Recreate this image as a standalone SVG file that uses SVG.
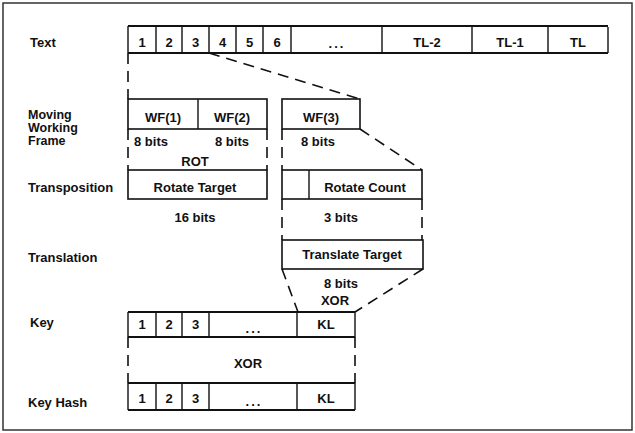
<svg xmlns="http://www.w3.org/2000/svg" width="635" height="433" viewBox="0 0 635 433">
<style>
text{font-family:"Liberation Sans",Arial,sans-serif;font-size:13px;font-weight:bold;fill:#111}
.c{text-anchor:middle}
.s{font-size:12.5px}
.dots{letter-spacing:2px}
.box{fill:none;stroke:#111;stroke-width:1.6}
.h{stroke:#111;stroke-width:2;fill:none}
.v{stroke:#111;stroke-width:1.4;fill:none}
.d{stroke:#111;stroke-width:1.6;fill:none;stroke-dasharray:11 7}
</style>
<rect x="3" y="3" width="629" height="427" fill="#fff" stroke="#333" stroke-width="1.5"/>
<g id="labels">
<text x="30" y="47">Text</text>
<text class="s" x="28" y="119">Moving</text>
<text class="s" x="28" y="132">Working</text>
<text class="s" x="28" y="145">Frame</text>
<text x="28" y="192">Transposition</text>
<text x="28" y="262">Translation</text>
<text x="30" y="327">Key</text>
<text x="28" y="407">Key Hash</text>
</g>
<g id="text-row">
<line class="h" x1="128" y1="26" x2="608" y2="26"/>
<line class="h" x1="128" y1="53" x2="608" y2="53"/>
<path class="v" d="M128 26V53M156 26V53M182 26V53M209 26V53M236 26V53M263 26V53M291 26V53M382 27V53M472 27V53M548 27V53M608 27V53"/>
<text class="c" x="142" y="47">1</text>
<text class="c" x="169" y="47">2</text>
<text class="c" x="195.5" y="47">3</text>
<text class="c" x="222.5" y="47">4</text>
<text class="c" x="249.5" y="47">5</text>
<text class="c" x="277" y="47">6</text>
<text class="c dots" x="337" y="48">...</text>
<text class="c" x="427" y="47">TL-2</text>
<text class="c" x="510" y="47">TL-1</text>
<text class="c" x="578" y="47">TL</text>
</g>
<g id="wf12">
<rect class="box" x="128" y="99" width="139" height="30"/>
<line class="v" x1="198" y1="99" x2="198" y2="129"/>
<text class="c" x="163" y="122">WF(1)</text>
<text class="c" x="232" y="122">WF(2)</text>
<text class="c" x="151" y="146">8 bits</text>
<text class="c" x="232" y="146">8 bits</text>
<text class="c" x="195" y="166">ROT</text>
</g>
<g id="wf3">
<rect class="box" x="282" y="99" width="78" height="30"/>
<text class="c" x="321" y="122">WF(3)</text>
<text class="c" x="318" y="146">8 bits</text>
</g>
<g id="rotate-target">
<rect class="box" x="128" y="170" width="139" height="29"/>
<text class="c" x="195" y="192">Rotate Target</text>
<text class="c" x="195" y="222">16 bits</text>
</g>
<g id="rotate-count">
<rect class="box" x="282" y="170" width="140" height="29"/>
<line class="v" x1="309" y1="170" x2="309" y2="199"/>
<text class="c" x="365" y="192">Rotate Count</text>
<text class="c" x="341" y="222">3 bits</text>
</g>
<g id="translate-target">
<rect class="box" x="282" y="240" width="141" height="29"/>
<text class="c" x="352" y="259">Translate Target</text>
<text class="c" x="341" y="288">8 bits</text>
<text class="c" x="335" y="305">XOR</text>
</g>
<g id="key-row">
<line class="h" x1="128" y1="312" x2="355" y2="312"/>
<line class="h" x1="128" y1="337" x2="355" y2="337"/>
<path class="v" d="M128 312V337M156 312V337M182 312V337M209 312V337M297 312V337M355 312V337"/>
<text class="c" x="142" y="329">1</text>
<text class="c" x="169" y="329">2</text>
<text class="c" x="195.5" y="329">3</text>
<text class="c dots" x="254" y="333">...</text>
<text class="c" x="326" y="329">KL</text>
<text class="c" x="248" y="368">XOR</text>
</g>
<g id="key-hash-row">
<line class="h" x1="128" y1="383" x2="355" y2="383"/>
<line class="h" x1="128" y1="410" x2="355" y2="410"/>
<path class="v" d="M128 383V410M156 383V410M182 383V410M209 383V410M297 383V410M355 383V410"/>
<text class="c" x="142" y="403">1</text>
<text class="c" x="169" y="403">2</text>
<text class="c" x="195.5" y="403">3</text>
<text class="c dots" x="254" y="406">...</text>
<text class="c" x="326" y="403">KL</text>
</g>
<g id="connectors">
<line class="d" x1="128" y1="53" x2="128" y2="99"/>
<line class="d" x1="209" y1="53" x2="360" y2="99"/>
<line class="d" x1="128" y1="129" x2="128" y2="170"/>
<line class="d" x1="267" y1="129" x2="267" y2="170"/>
<line class="d" x1="282" y1="129" x2="282" y2="170"/>
<line class="d" x1="360" y1="129" x2="422" y2="170"/>
<line class="d" x1="282" y1="199" x2="282" y2="240"/>
<line class="d" x1="422" y1="199" x2="422" y2="240"/>
<line class="d" x1="282" y1="269" x2="298" y2="312"/>
<line class="d" x1="423" y1="269" x2="355" y2="312"/>
<line class="d" x1="128" y1="337" x2="128" y2="383"/>
<line class="d" x1="355" y1="337" x2="355" y2="383"/>
</g>
</svg>
